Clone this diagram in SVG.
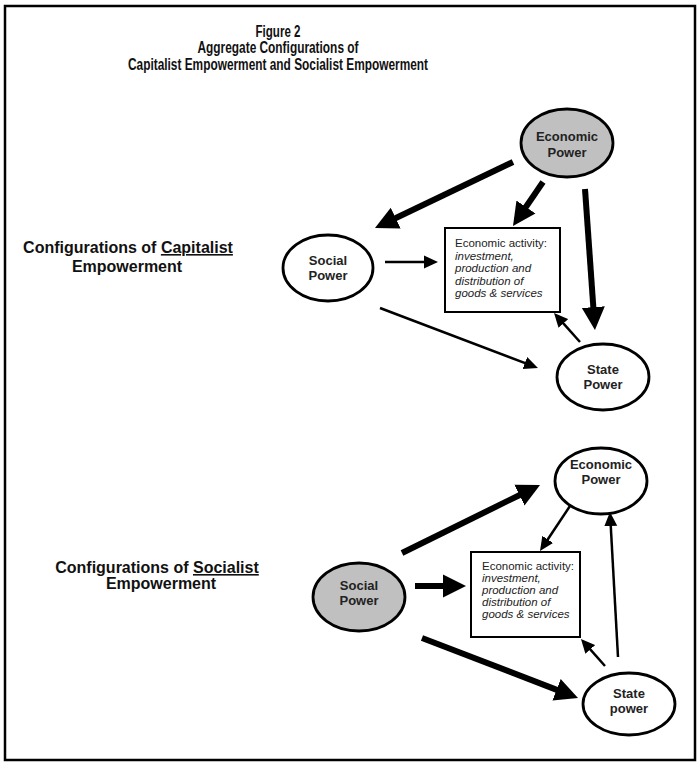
<svg xmlns="http://www.w3.org/2000/svg" width="699" height="763" viewBox="0 0 699 763">
  <style>
    .frame { fill: #ffffff; stroke: #000000; stroke-width: 2.5; }
    .title { font-family: "Liberation Sans", Arial, sans-serif; font-weight: bold; font-size: 16px; fill: #111; text-anchor: middle; }
    .side { font-family: "Liberation Sans", Arial, sans-serif; font-weight: bold; font-size: 16px; fill: #111; text-anchor: middle; }
    .node { stroke: #000; stroke-width: 2.8; }
    .plain { fill: #ffffff; }
    .shaded { fill: #c0c0c0; }
    .lbl { font-family: "Liberation Sans", Arial, sans-serif; font-weight: bold; font-size: 13px; fill: #222; text-anchor: middle; }
    .box { fill: #ffffff; stroke: #000; stroke-width: 2; }
    .act { font-family: "Liberation Sans", Arial, sans-serif; font-size: 11.5px; fill: #222; }
    .act .it { font-style: italic; }
    .thick { stroke: #000; stroke-width: 6; fill: none; marker-end: url(#bigHead); }
    .thin { stroke: #000; stroke-width: 2.5; fill: none; marker-end: url(#smallHead); }
  </style>
  <defs>
    <marker id="bigHead" markerUnits="userSpaceOnUse" viewBox="0 -12 23 24" refX="1" refY="0" markerWidth="23" markerHeight="24" orient="auto">
      <path d="M0,-11.5 L23,0 L0,11.5 Z" fill="#000"/>
    </marker>
    <marker id="smallHead" markerUnits="userSpaceOnUse" viewBox="0 -7 14 14" refX="1" refY="0" markerWidth="14" markerHeight="14" orient="auto">
      <path d="M0,-6.5 L14,0 L0,6.5 Z" fill="#000"/>
    </marker>
  </defs>

  <rect class="frame" x="5" y="6" width="690" height="754"/>

  <g id="title">
    <text class="title" x="278" y="37" textLength="45" lengthAdjust="spacingAndGlyphs">Figure 2</text>
    <text class="title" x="278" y="53" textLength="161" lengthAdjust="spacingAndGlyphs">Aggregate Configurations of</text>
    <text class="title" x="278" y="70" textLength="300" lengthAdjust="spacingAndGlyphs">Capitalist Empowerment and Socialist Empowerment</text>
  </g>

  <!-- Capitalist configuration -->
  <g id="capitalist-label">
    <text class="side" x="128" y="253">Configurations of <tspan text-decoration="underline">Capitalist</tspan></text>
    <text class="side" x="127" y="272">Empowerment</text>
  </g>

  <g id="connectors-capitalist">
    <path class="thick" d="M513,162 L394.8,218.5"/>
    <path class="thick" d="M543,182 L525.4,207.8"/>
    <path class="thick" d="M585,189 L593.4,308.1"/>
    <path class="thin" d="M385,262 L425,262"/>
    <path class="thin" d="M380,308 L525.8,363.4"/>
    <path class="thin" d="M580,342 L562.7,322.7"/>
  </g>

  <g id="cap-economic">
    <ellipse class="node shaded" cx="567" cy="143" rx="46" ry="34"/>
    <text class="lbl" x="567" y="141">Economic</text>
    <text class="lbl" x="567" y="157">Power</text>
  </g>
  <g id="cap-social">
    <ellipse class="node plain" cx="328" cy="268" rx="45" ry="33"/>
    <text class="lbl" x="328" y="265">Social</text>
    <text class="lbl" x="328" y="280">Power</text>
  </g>
  <g id="cap-state">
    <ellipse class="node plain" cx="603" cy="377" rx="46" ry="33"/>
    <text class="lbl" x="603" y="374">State</text>
    <text class="lbl" x="603" y="389">Power</text>
  </g>
  <g id="cap-activity">
    <rect class="box" x="445" y="228" width="115" height="84"/>
    <text class="act" x="455" y="247">Economic activity:</text>
    <text class="act" x="455" y="259.5"><tspan class="it">investment,</tspan></text>
    <text class="act" x="455" y="272"><tspan class="it">production and</tspan></text>
    <text class="act" x="455" y="284.5"><tspan class="it">distribution of</tspan></text>
    <text class="act" x="455" y="297"><tspan class="it">goods &amp; services</tspan></text>
  </g>

  <!-- Socialist configuration -->
  <g id="socialist-label">
    <text class="side" x="157" y="573">Configurations of <tspan text-decoration="underline">Socialist</tspan></text>
    <text class="side" x="161" y="589">Empowerment</text>
  </g>

  <g id="connectors-socialist">
    <path class="thick" d="M402,553 L520.3,494.7"/>
    <path class="thin" d="M570,506 L547.2,540.2"/>
    <path class="thick" d="M415,586 L444,586"/>
    <path class="thick" d="M422,638 L557.5,690.1"/>
    <path class="thin" d="M605,666 L589.6,648.7"/>
    <path class="thin" d="M618,657 L610.7,525"/>
  </g>

  <g id="soc-economic">
    <ellipse class="node plain" cx="601" cy="481" rx="46" ry="33"/>
    <text class="lbl" x="601" y="469">Economic</text>
    <text class="lbl" x="601" y="484">Power</text>
  </g>
  <g id="soc-social">
    <ellipse class="node shaded" cx="359" cy="597" rx="46" ry="34"/>
    <text class="lbl" x="359" y="590">Social</text>
    <text class="lbl" x="359" y="605">Power</text>
  </g>
  <g id="soc-state">
    <ellipse class="node plain" cx="629" cy="704" rx="46" ry="31"/>
    <text class="lbl" x="629" y="698">State</text>
    <text class="lbl" x="629" y="713">power</text>
  </g>
  <g id="soc-activity">
    <rect class="box" x="471" y="552" width="109" height="85"/>
    <text class="act" x="482" y="570">Economic activity:</text>
    <text class="act" x="482" y="582"><tspan class="it">investment,</tspan></text>
    <text class="act" x="482" y="594"><tspan class="it">production and</tspan></text>
    <text class="act" x="482" y="606"><tspan class="it">distribution of</tspan></text>
    <text class="act" x="482" y="618"><tspan class="it">goods &amp; services</tspan></text>
  </g>
</svg>
